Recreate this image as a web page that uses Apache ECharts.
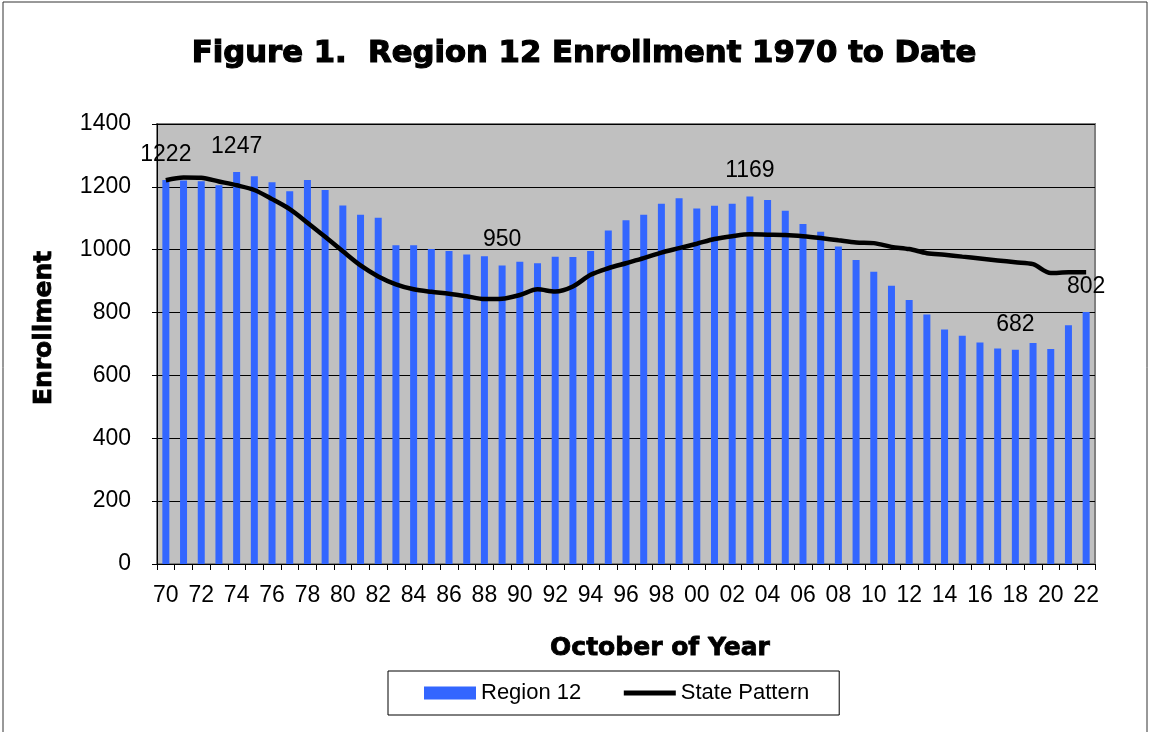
<!DOCTYPE html>
<html>
<head>
<meta charset="utf-8">
<script src="https://cdn.jsdelivr.net/npm/echarts@6/dist/echarts.min.js"></script>
<style>
html,body{margin:0;padding:0;background:#fff;}
#chart{width:1151px;height:732px;}
</style>
</head>
<body>
<div id="chart"></div>
<script>
const years = ['70','71','72','73','74','75','76','77','78','79',
  '80','81','82','83','84','85','86','87','88','89',
  '90','91','92','93','94','95','96','97','98','99',
  '00','01','02','03','04','05','06','07','08','09',
  '10','11','12','13','14','15','16','17','18','19',
  '20','21','22'];
const region12 = [1222,1220,1218,1205,1247,1234,1215,1186,1222,1190,
  1141,1111,1102,1014,1014,1002,996,985,979,950,
  962,957,978,977,996,1061,1094,1111,1146,1164,
  1131,1140,1146,1169,1158,1124,1082,1057,1010,967,
  930,885,840,794,746,726,705,686,682,703,
  684,760,802];
const statePattern = [1221,1230,1229,1217,1205,1190,1161,1129,1086,1041,
  995,950,915,890,874,866,860,852,843,844,
  856,874,867,883,920,941,957,973,991,1005,
  1019,1034,1043,1049,1048,1047,1043,1037,1030,1023,
  1021,1009,1002,989,984,978,972,966,960,954,
  926,928,928];
const labeledYears = ['70','74','89','03','18','22'];
const yTicks = [0,200,400,600,800,1000,1200,1400];

const FONT = 'Liberation Sans, Arial, sans-serif';
const chart = echarts.init(document.getElementById('chart'));

const barData = region12.map((v, i) => labeledYears.includes(years[i])
  ? {value: v, label: {show: true}} : v);

chart.setOption({
  backgroundColor: '#fff',
  animation: false,
  title: {
    text: 'Figure 1.  Region 12 Enrollment 1970 to Date',
    left: 579, top: 34, textAlign: 'center',
    textStyle: {fontFamily: 'DejaVu Sans', fontWeight: 'bold', fontSize: 30.7, color: '#000',
      textBorderColor: '#000', textBorderWidth: 1.2}
  },
  graphic: [
    {type: 'rect', shape: {x: 3, y: 2, width: 1144, height: 760}, style: {fill: 'none', stroke: '#333', lineWidth: 1}, z: -1},
    {type: 'text', x: 660, y: 648, style: {text: 'October of Year', font: 'bold 25px DejaVu Sans', fill: '#000',
      stroke: '#000', lineWidth: 0.8, align: 'center', verticalAlign: 'middle'}},
    {type: 'text', x: 44, y: 328, rotation: Math.PI/2, style: {text: 'Enrollment', font: 'bold 25px DejaVu Sans', fill: '#000',
      stroke: '#000', lineWidth: 0.8, align: 'center', verticalAlign: 'middle'}}
  ],
  legend: {
    left: 388, top: 671,
    padding: [11, 30, 11, 36],
    itemWidth: 52, itemHeight: 13, itemGap: 40,
    backgroundColor: '#fff', borderColor: '#000', borderWidth: 1,
    textStyle: {fontFamily: FONT, fontSize: 22, color: '#000'},
    data: [
      {name: 'Region 12', icon: 'rect'},
      {name: 'State Pattern', itemStyle: {color: 'rgba(0,0,0,0)', borderColor: 'rgba(0,0,0,0)', borderWidth: 0},
        lineStyle: {color: '#000', width: 5}}
    ]
  },
  grid: {
    left: 157, right: 56, top: 124, bottom: 168,
    show: true, backgroundColor: '#C0C0C0', borderColor: '#808080', borderWidth: 2
  },
  xAxis: {
    type: 'category', data: years,
    axisLine: {lineStyle: {color: '#000', width: 1}},
    axisTick: {show: true, interval: 0, length: 6, lineStyle: {color: '#000'}},
    axisLabel: {interval: 1, fontFamily: FONT, fontSize: 23, color: '#000', margin: 20}
  },
  yAxis: {
    type: 'value', min: yTicks[0], max: yTicks[yTicks.length-1], interval: 200,
    axisLine: {show: true, lineStyle: {color: '#000', width: 1}},
    axisTick: {show: true, length: 5, lineStyle: {color: '#000'}},
    axisLabel: {fontFamily: FONT, fontSize: 23, color: '#000', margin: 26, formatter: v => String(v)},
    splitLine: {lineStyle: {color: '#000', width: 1}}
  },
  series: [
    {
      name: 'Region 12', type: 'bar', data: barData, barWidth: 7,
      itemStyle: {color: '#3366FF'},
      label: {show: false, position: 'top', distance: 14, fontFamily: FONT, fontSize: 23, color: '#000'}
    },
    {
      name: 'State Pattern', type: 'line', data: statePattern, smooth: 0.3,
      symbol: 'none', lineStyle: {color: '#000', width: 4.5}, itemStyle: {color: '#000'}, z: 3
    }
  ]
});
</script>
</body>
</html>
